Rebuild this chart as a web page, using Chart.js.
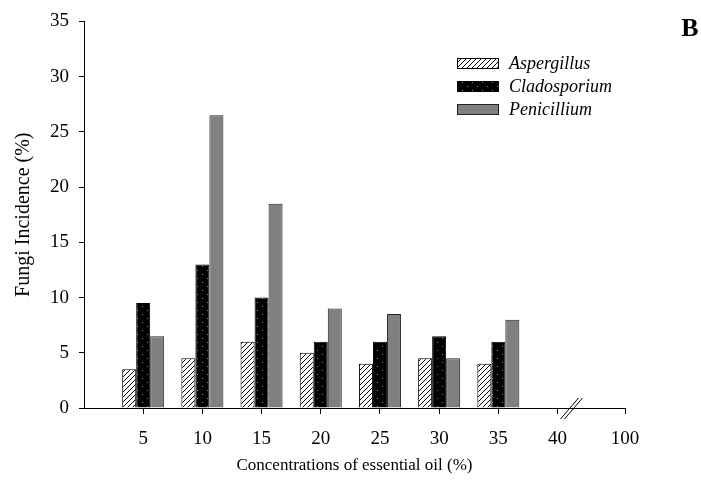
<!DOCTYPE html>
<html><head><meta charset="utf-8">
<script src="https://cdn.jsdelivr.net/npm/chart.js@4"></script>
<style>html,body{margin:0;padding:0;background:#fff}#wrap{width:701px;height:486px;position:relative}</style>
</head><body><div id="wrap"><canvas id="c"></canvas></div>
<script>
// ---- data ----
const concentrations = [5, 10, 15, 20, 25, 30, 35];
const aspergillus  = [3.5, 4.5, 6, 5, 4, 4.5, 4];
const cladosporium = [9.5, 13, 10, 6, 6, 6.5, 6];
const penicillium  = [6.5, 26.5, 18.5, 9, 8.5, 4.5, 8];
const seriesNames  = ['Aspergillus', 'Cladosporium', 'Penicillium'];
const xTickLabels  = ['5', '10', '15', '20', '25', '30', '35', '40', '100'];
const yTickValues  = [0, 5, 10, 15, 20, 25, 30, 35];

// axis with a break between 40 and 100: 100 is drawn at the axis end
const BREAK_POS = 45.7;
const xTickPositions = [5, 10, 15, 20, 25, 30, 35, 40, BREAK_POS];

const FONT = "'Liberation Serif', 'Times New Roman', serif";

function hatchPattern() {
  const s = 5, c = document.createElement('canvas'); c.width = s; c.height = s;
  const g = c.getContext('2d');
  g.fillStyle = '#fff'; g.fillRect(0, 0, s, s);
  g.strokeStyle = '#000'; g.lineWidth = 1;
  g.beginPath();
  g.moveTo(-1, s + 1); g.lineTo(s + 1, -1);
  g.moveTo(-1, 1); g.lineTo(1, -1);
  g.moveTo(s - 1, s + 1); g.lineTo(s + 1, s - 1);
  g.stroke();
  return g.createPattern(c, 'repeat');
}
function dotPattern() {
  const w = 10, h = 8, c = document.createElement('canvas'); c.width = w; c.height = h;
  const g = c.getContext('2d');
  g.fillStyle = '#000'; g.fillRect(0, 0, w, h);
  g.fillStyle = '#8a8a8a';
  g.fillRect(2, 2, 1, 1);
  g.fillRect(7, 6, 1, 1);
  return g.createPattern(c, 'repeat');
}
const fills = [hatchPattern(), dotPattern(), '#808080'];
const borders = ['#000', '#000', '#222'];
const seriesValues = [aspergillus, cladosporium, penicillium];

const extras = {
  id: 'extras',
  afterDraw(chart) {
    const ctx = chart.ctx;
    ctx.save();
    // legend
    const lx = 457, lw = 42, lh = 11, rows = [58, 81, 104];
    ctx.font = "italic 18px " + FONT;
    ctx.textBaseline = 'middle';
    ctx.textAlign = 'left';
    chart.data.datasets.forEach((ds, i) => {
      ctx.fillStyle = ds.backgroundColor;
      ctx.fillRect(lx, rows[i], lw, lh);
      ctx.strokeStyle = ds.borderColor; ctx.lineWidth = 1;
      ctx.strokeRect(lx + 0.5, rows[i] + 0.5, lw - 1, lh - 1);
      ctx.fillStyle = '#000';
      ctx.fillText(ds.label, 509, rows[i] + lh / 2 + 1);
    });
    // panel letter
    ctx.font = "bold 26px " + FONT;
    ctx.textAlign = 'center';
    ctx.fillText('B', 690, 29);
    // axis break marks
    const xs = chart.scales.x, ys = chart.scales.y;
    const bx = xs.getPixelForValue(40) + 14;
    const by = ys.getPixelForValue(0);
    ctx.strokeStyle = '#000'; ctx.lineWidth = 1;
    ctx.beginPath();
    ctx.moveTo(bx - 11, by + 11); ctx.lineTo(bx + 7, by - 10);
    ctx.moveTo(bx - 7, by + 11); ctx.lineTo(bx + 11, by - 10);
    ctx.stroke();
    ctx.restore();
  }
};

new Chart(document.getElementById('c'), {
  type: 'bar',
  data: {
    datasets: seriesNames.map((name, i) => ({
      label: name,
      data: concentrations.map((c, j) => ({ x: c, y: seriesValues[i][j] })),
      backgroundColor: fills[i],
      borderColor: borders[i],
      borderWidth: 1,
      categoryPercentage: 0.71,
      barPercentage: 1.0
    }))
  },
  options: {
    responsive: true,
    maintainAspectRatio: false,
    animation: false,
    events: [],
    layout: { padding: { left: 0, top: 20, right: 76, bottom: 0 } },
    plugins: { legend: { display: false }, tooltip: { enabled: false } },
    scales: {
      x: {
        type: 'linear', min: 0, max: BREAK_POS, offset: false,
        afterBuildTicks: (s) => { s.ticks = xTickPositions.map(v => ({ value: v })); },
        afterFit: (s) => { s.height = 78; },
        ticks: {
          autoSkip: false, maxRotation: 0, padding: 14,
          color: '#000', font: { family: FONT, size: 19 },
          callback: (v, i) => xTickLabels[i]
        },
        grid: { offset: false, drawOnChartArea: false, drawTicks: true, tickLength: 6, color: '#000' },
        border: { color: '#000', width: 1 },
        title: { display: true, text: 'Concentrations of essential oil (%)', color: '#000',
                 font: { family: FONT, size: 17 }, padding: { top: 0, bottom: 10 } }
      },
      y: {
        min: 0, max: 35,
        afterBuildTicks: (s) => { s.ticks = yTickValues.map(v => ({ value: v })); },
        afterFit: (s) => { s.width = 84; },
        ticks: { padding: 10, color: '#000', font: { family: FONT, size: 19 } },
        grid: { drawOnChartArea: false, drawTicks: true, tickLength: 5, color: '#000' },
        border: { color: '#000', width: 1 },
        title: { display: true, text: 'Fungi Incidence (%)', color: '#000',
                 font: { family: FONT, size: 20 }, padding: { top: 12, bottom: 0 } }
      }
    }
  },
  plugins: [extras]
});
</script></body></html>
